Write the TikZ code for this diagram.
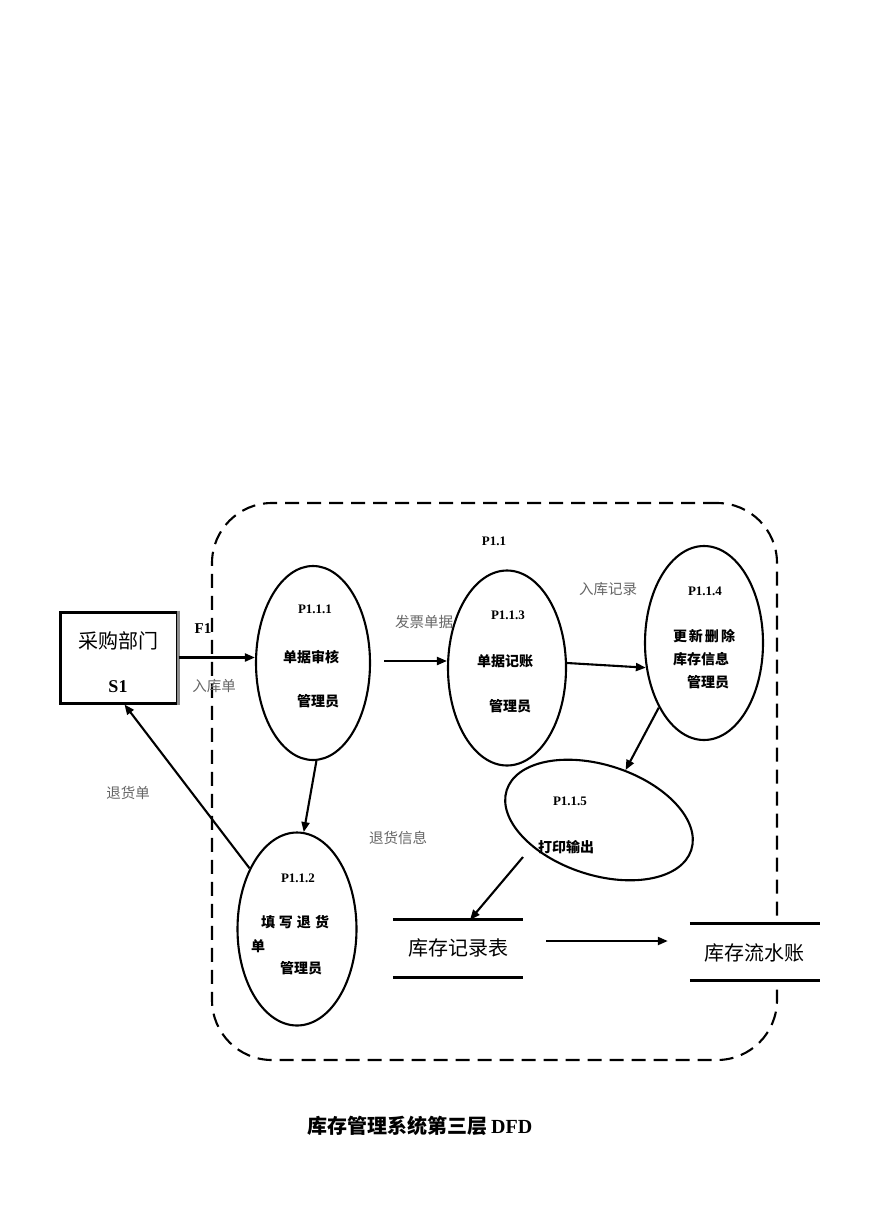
\documentclass[tikz,border=0pt]{standalone}
\usepackage{fontspec}
\setmainfont{Liberation Serif}
\newfontfamily\cjk{Noto Sans CJK SC}
\usetikzlibrary{shapes.geometric,arrows.meta,calc}
\begin{document}
\begin{tikzpicture}[x=1pt,y=-1pt,
  proc/.style={draw,ellipse,line width=2.1pt,inner sep=0pt},
  plbl/.style={font=\bfseries\fontsize{13}{15}\selectfont},
  cj/.style={font=\cjk\bfseries\fontsize{14}{16}\selectfont},
  flow/.style={font=\cjk\fontsize{14.5}{16}\selectfont,text=black!60},
  big/.style={font=\cjk\fontsize{20}{22}\selectfont},
  arr/.style={line width=2.1pt,-{Triangle[length=10pt,width=8pt]}},
  storeline/.style={line width=3pt},
  sysbox/.style={draw,dashed,dash pattern=on 14pt off 8pt,line width=2.1pt,rounded corners=60pt,inner sep=0pt}]
\useasboundingbox (0,0) rectangle (869,1228);
\fill[white] (0,0) rectangle (869,1228);

% container
\node[sysbox,minimum width=565pt,minimum height=557pt] (sys) at (494.5,781.5) {};

% external entity
\node[draw,line width=3pt,minimum width=117pt,minimum height=91pt,inner sep=0pt] (box) at (118.5,657.5) {};
\draw[line width=3pt,black!45] (box.north east) -- (box.south east);
\node[big] (tbox) at (118,641) {采购部门};
\node[font=\bfseries\fontsize{18}{20}\selectfont] (ts1) at (118,687) {S1};

% processes
\node[proc,minimum width=114pt,minimum height=194pt] (e1) at (313,663) {};
\node[proc,minimum width=118pt,minimum height=195pt] (e3) at (507,668) {};
\node[proc,minimum width=118pt,minimum height=194pt] (e4) at (704,643) {};
\node[proc,minimum width=119pt,minimum height=193pt] (e2) at (297,929) {};
\node[proc,minimum width=194pt,minimum height=110pt,rotate=-18] (e5) at (599,820) {};

% stores
\node[minimum width=130pt,minimum height=57pt,inner sep=0pt] (s1) at (458,948.5) {};
\draw[storeline] (s1.north west) -- (s1.north east);
\draw[storeline] (s1.south west) -- (s1.south east);
\node[big] (ts1b) at (458,948) {库存记录表};
\node[fill=white,minimum width=130pt,minimum height=56pt,inner sep=0pt] (s2) at (755,952) {};
\draw[storeline] (s2.north west) -- (s2.north east);
\draw[storeline] (s2.south west) -- (s2.south east);
\node[big] (ts2b) at (754,953) {库存流水账};

% process texts
\node[plbl] (p1) at (494,541) {P1.1};
\node[plbl] (p111) at (315,609) {P1.1.1};
\node[cj] (a1) at (311,657) {单据审核};
\node[cj] (a2) at (318,701) {管理员};
\node[plbl] (p113) at (508,615) {P1.1.3};
\node[cj] (b1) at (505,661) {单据记账};
\node[cj] (b2) at (510,706) {管理员};
\node[plbl] (p114) at (705,591) {P1.1.4};
\node[cj] (c1) at (704,636) {更\hspace{2pt}新\hspace{2pt}删\hspace{2pt}除};
\node[cj] (c2) at (701,659) {库存信息};
\node[cj] (c3) at (708,682) {管理员};
\node[plbl] (p115) at (570,801) {P1.1.5};
\node[cj] (d1) at (566,847) {打印输出};
\node[plbl] (p112) at (298,878) {P1.1.2};
\node[cj] (f1) at (295,922) {填\hspace{4pt}写\hspace{4pt}退\hspace{4pt}货};
\node[cj] (f2) at (258,946) {单};
\node[cj] (f3) at (301,968) {管理员};

% flow labels
\node[font=\bfseries\fontsize{15}{17}\selectfont] (tf1) at (203,629) {F1};
\node[flow] (l1) at (214,686) {入库单};
\node[flow] (l2) at (424,622) {发票单据};
\node[flow] (l3) at (608,589) {入库记录};
\node[flow] (l4) at (128,793) {退货单};
\node[flow] (l5) at (398,838) {退货信息};

% connectors
\draw[arr] (box.east) -- (e1.west |- box.east);
\draw[arr] ($(e1.east)+(13,-2)$) -- ($(e3.west)+(0,-7)$);
\draw[arr] ($(e3.east)+(0,-5)$) -- (e4.203);
\draw[arr] (e4.235) -- (e5);
\coordinate (q5) at (523,857);
\draw[arr] (q5) -- ($(s1.north)+(12,0)$);
\draw[arr] ($(s1.east)+(23,-7.5)$) -- ($(s2.west)+(-22,-11)$);
\draw[arr] (e1.272) -- (e2.86);
\draw[arr] (e2.128) -- ($(box.south)+(6,0)$);

% title
\node[font=\cjk\bfseries\fontsize{20}{22}\selectfont] (title) at (420,1126) {库存管理系统第三层\,{\rmfamily\bfseries DFD}};
\end{tikzpicture}
\end{document}
